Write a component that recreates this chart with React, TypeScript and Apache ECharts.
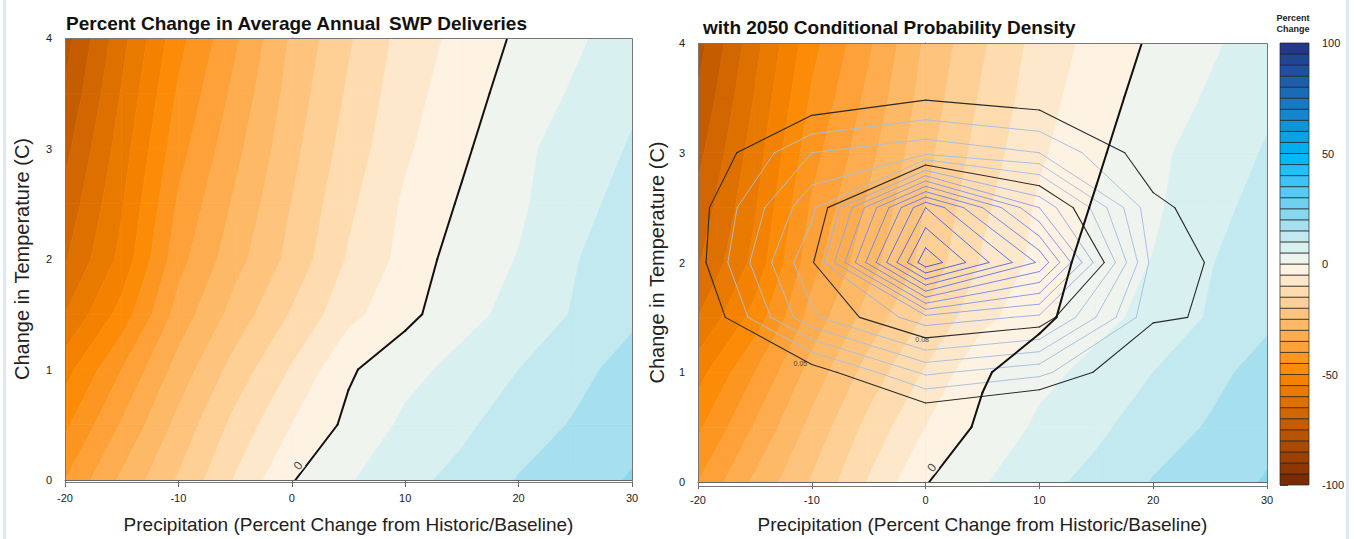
import React, { useEffect, useRef } from "react";
import * as echarts from "echarts";

// ---------- data ----------
const precipGrid = [-20, -15, -10, -5, 0, 5, 10, 15, 20, 25, 30];
const tempGrid = [0, 0.5, 1, 1.5, 2, 2.5, 3, 3.5, 4];
// percent change in SWP deliveries; rows = temperature, cols = precipitation
const pctChange = [
  [-40, -29, -19.5, -9.6, -0.3, 4.5, 8.6, 11.4, 15.3, 17.9, 20.4],
  [-46, -34.5, -23.5, -13.5, -5, 1.2, 6, 9, 12.5, 15.5, 18.5],
  [-52, -40, -28, -18, -9.5, -0.7, 3.5, 6.5, 10, 13.5, 17],
  [-60, -48, -33, -23, -14.5, -6.5, -1.5, 3.5, 6.5, 10.5, 14],
  [-65.5, -53.5, -36.8, -26.9, -18.4, -9.5, -3.4, 2.6, 5.2, 9.7, 13.5],
  [-68.5, -55.5, -39.3, -29.2, -19.9, -11.1, -4.2, 0.6, 4.2, 8.3, 12],
  [-71.5, -57.5, -41.9, -31.5, -21.5, -12.8, -5.8, -0.9, 4.0, 6.9, 10.5],
  [-74.5, -59.6, -44.3, -33.7, -22.9, -14.3, -6.9, -2.2, 2.3, 5.6, 9],
  [-77, -61.7, -46.7, -35.9, -24.2, -15.7, -8.0, -3.4, 0.85, 4.2, 7.5],
];
const bandLevels = Array.from({ length: 41 }, (_, k) => -100 + 5 * k);

const densPrecip = [-20, -10, 0, 10, 20, 30];
const densTemp = [0, 0.5, 1, 1.5, 2, 2.5, 3, 3.5, 4];
const density = [
  [0.015, 0.02, 0.025, 0.022, 0.018, 0.015],
  [0.025, 0.033, 0.0396, 0.033, 0.028, 0.025],
  [0.036, 0.0463, 0.0632, 0.058, 0.041, 0.037],
  [0.0428, 0.0728, 0.09, 0.0847, 0.051, 0.0477],
  [0.0478, 0.079, 0.1444, 0.115, 0.0536, 0.0456],
  [0.0475, 0.0722, 0.128, 0.092, 0.0515, 0.0436],
  [0.0438, 0.062, 0.0661, 0.062, 0.046, 0.04],
  [0.035, 0.0444, 0.0493, 0.0466, 0.038, 0.03],
  [0.025, 0.033, 0.037, 0.035, 0.03, 0.025],
];
const densityLevels = [0.056, 0.062, 0.068, 0.074, 0.086, 0.092, 0.098, 0.104, 0.11, 0.116, 0.122, 0.128, 0.134, 0.14];
const densityKeyLevels = [0.05, 0.08];
const densityKeyLabels = ["0.05", "0.08"];
const densityLabelPos = [[-11, 1.08], [-0.3, 1.3]];
const zeroLabelPos = [0.55, 0.13];

const xTicks = { min: -20, max: 30, step: 10 };
const yTicks = { min: 0, max: 4, step: 1 };
const cbTicks = { min: -100, max: 100, step: 50 };

// ---------- styles ----------
const bandColors = [
  "#7a2b00", "#8c3600", "#9c4000", "#aa4a00", "#b85300", "#c55c00", "#d26600", "#de7000", "#e97a00", "#f48200",
  "#fc8c08", "#fd9620", "#fda138", "#fdad4f", "#fdb966", "#fec47e", "#fed096", "#fedcb0", "#fee8cc", "#fef2e2",
  "#eff4ee", "#d8f0f0", "#c2e9ef", "#a6e0ef", "#88d7f0", "#6fd0f2", "#55caf4", "#3cc4f6", "#1ec0f8", "#00baf6",
  "#00b0ee", "#0aa2e4", "#1193d8", "#1585cd", "#1878c2", "#1a6bb5", "#1c5ea9", "#1e519e", "#1f4593", "#24378a",
];
const densityColors = [
  "rgba(165,192,222,0.95)", "rgba(165,192,222,0.95)", "rgba(165,192,222,0.95)", "rgba(165,192,222,0.95)",
  "#9fb0ea", "#95a6ea", "#8b9ce9", "#8192e8", "#7788e6", "#6e7fe5", "#6576e3", "#5c6de2", "#5364e0", "#4a5bdf",
];
const FONT = '"Liberation Sans", Arial, Helvetica, sans-serif';

type Pt = [number, number, number];

function clip(poly: Pt[], level: number, keepAbove: boolean): Pt[] {
  const out: Pt[] = [];
  const n = poly.length;
  for (let a = 0; a < n; a++) {
    const p = poly[a];
    const q = poly[(a + 1) % n];
    const pin = keepAbove ? p[2] >= level : p[2] <= level;
    const qin = keepAbove ? q[2] >= level : q[2] <= level;
    if (pin) out.push(p);
    if (pin !== qin) {
      const t = (level - p[2]) / (q[2] - p[2]);
      out.push([p[0] + t * (q[0] - p[0]), p[1] + t * (q[1] - p[1]), level]);
    }
  }
  return out;
}

function cellCorners(xs: number[], ys: number[], vals: number[][], i: number, j: number): Pt[] {
  return [
    [xs[i], ys[j], vals[j][i]],
    [xs[i + 1], ys[j], vals[j][i + 1]],
    [xs[i + 1], ys[j + 1], vals[j + 1][i + 1]],
    [xs[i], ys[j + 1], vals[j + 1][i]],
  ];
}

function cellData(xs: number[], ys: number[]) {
  const d: number[][] = [];
  for (let j = 0; j < ys.length - 1; j++)
    for (let i = 0; i < xs.length - 1; i++) d.push([xs[i], ys[j], i, j]);
  return d;
}

function fillRender(params: any, api: any) {
  const i = api.value(2);
  const j = api.value(3);
  const corners = cellCorners(precipGrid, tempGrid, pctChange, i, j);
  const vs = corners.map((c) => c[2]);
  const kmin = Math.max(0, Math.floor((Math.min(...vs) - bandLevels[0]) / 5));
  const kmax = Math.min(bandColors.length - 1, Math.floor((Math.max(...vs) - bandLevels[0]) / 5));
  const children: any[] = [];
  for (let k = kmin; k <= kmax; k++) {
    let poly = clip(corners, bandLevels[k], true);
    poly = clip(poly, bandLevels[k + 1], false);
    if (poly.length < 3) continue;
    const pts = poly.map((p) => api.coord([p[0], p[1]]));
    children.push({
      type: "polygon",
      shape: { points: pts },
      style: { fill: bandColors[k], stroke: bandColors[k], lineWidth: 0.7 },
    });
  }
  return { type: "group", children };
}

function segments(corners: Pt[], L: number): [number, number][][] {
  const c = corners.map((p) => [p[0], p[1], p[2] === L ? p[2] + 1e-9 : p[2]] as Pt);
  const pts: ([number, number] | null)[] = [];
  for (let e = 0; e < 4; e++) {
    const a = c[e];
    const b = c[(e + 1) % 4];
    if ((a[2] - L) * (b[2] - L) < 0) {
      const t = (L - a[2]) / (b[2] - a[2]);
      pts.push([a[0] + t * (b[0] - a[0]), a[1] + t * (b[1] - a[1])]);
    } else pts.push(null);
  }
  const found = pts.filter((p) => p) as [number, number][];
  if (found.length === 2) return [found];
  if (found.length === 4) {
    const center = (c[0][2] + c[1][2] + c[2][2] + c[3][2]) / 4;
    const same = (center - L) * (c[0][2] - L) > 0;
    return same
      ? [[pts[0]!, pts[1]!], [pts[2]!, pts[3]!]]
      : [[pts[3]!, pts[0]!], [pts[1]!, pts[2]!]];
  }
  return [];
}

function lineRender(xs: number[], ys: number[], vals: number[][], levels: number[], colors: string[], width: number) {
  return (params: any, api: any) => {
    const i = api.value(2);
    const j = api.value(3);
    const corners = cellCorners(xs, ys, vals, i, j);
    const children: any[] = [];
    levels.forEach((L, li) => {
      for (const s of segments(corners, L)) {
        const p1 = api.coord(s[0]);
        const p2 = api.coord(s[1]);
        children.push({
          type: "line",
          shape: { x1: p1[0], y1: p1[1], x2: p2[0], y2: p2[1] },
          style: { stroke: colors[li], lineWidth: width, lineCap: "round" },
        });
      }
    });
    return { type: "group", children };
  };
}

function colorbarRender(params: any, api: any) {
  const lo = api.value(0);
  const hi = api.value(1);
  const k = api.value(2);
  const p1 = api.coord([0, lo]);
  const p2 = api.coord([1, hi]);
  return {
    type: "rect",
    shape: { x: p1[0], y: p2[1], width: p2[0] - p1[0], height: p1[1] - p2[1] },
    style: { fill: bandColors[k], stroke: "#222", lineWidth: 0.7 },
  };
}

const panels = [
  { left: 65, top: 38, width: 567, height: 444, xGap: 35, yGap: 33 },
  { left: 698, top: 43, width: 569, height: 443, xGap: 33, yGap: 31 },
];

function buildOption() {
  const grids: any[] = panels.map((p) => ({ left: p.left, top: p.top, width: p.width, height: p.height, containLabel: false }));
  grids.push({ left: 1280, top: 43, width: 29, height: 442 });

  const xAxes: any[] = panels.map((p, gi) => ({
    gridIndex: gi,
    type: "value",
    min: xTicks.min,
    max: xTicks.max,
    interval: xTicks.step,
    axisLine: { show: true, lineStyle: { color: "#666", width: 1 } },
    axisTick: { show: true, length: 7, lineStyle: { color: "#666" } },
    axisLabel: { fontSize: 11, color: "#222", margin: 12, fontFamily: FONT },
    splitLine: { show: false },
    name: "Precipitation (Percent Change from Historic/Baseline)",
    nameLocation: "middle",
    nameGap: p.xGap,
    nameTextStyle: { fontSize: 19, color: "#222", fontFamily: FONT },
  }));
  xAxes.push({ gridIndex: 2, type: "value", min: 0, max: 1, show: false });

  const yAxes: any[] = panels.map((p, gi) => ({
    gridIndex: gi,
    type: "value",
    min: yTicks.min,
    max: yTicks.max,
    interval: yTicks.step,
    axisLine: { show: true, lineStyle: { color: "#666", width: 1 } },
    axisTick: { show: true, length: 7, lineStyle: { color: "#666" } },
    axisLabel: { fontSize: 11, color: "#222", margin: 13, fontFamily: FONT },
    splitLine: { show: false },
    name: "Change in Temperature (C)",
    nameLocation: "middle",
    nameGap: p.yGap,
    nameTextStyle: { fontSize: 20, color: "#222", fontFamily: FONT },
  }));
  yAxes.push({
    gridIndex: 2,
    type: "value",
    position: "right",
    min: cbTicks.min,
    max: cbTicks.max,
    interval: cbTicks.step,
    axisLine: { show: false },
    axisTick: { show: true, length: 8, lineStyle: { color: "#555" } },
    axisLabel: { fontSize: 11, color: "#222", margin: 13, fontFamily: FONT },
    splitLine: { show: false },
  });

  const fieldCells = cellData(precipGrid, tempGrid);
  const densCells = cellData(densPrecip, densTemp);
  const series: any[] = [];

  panels.forEach((p, gi) => {
    series.push({
      type: "custom",
      xAxisIndex: gi,
      yAxisIndex: gi,
      data: fieldCells,
      encode: { x: 0, y: 1 },
      renderItem: fillRender,
      clip: true,
      silent: true,
      z: 1,
    });
    if (gi === 1) {
      series.push({
        type: "custom",
        xAxisIndex: gi,
        yAxisIndex: gi,
        data: densCells,
        encode: { x: 0, y: 1 },
        renderItem: lineRender(densPrecip, densTemp, density, densityLevels, densityColors, 1),
        clip: true,
        silent: true,
        z: 3,
      });
      series.push({
        type: "custom",
        xAxisIndex: gi,
        yAxisIndex: gi,
        data: densCells,
        encode: { x: 0, y: 1 },
        renderItem: lineRender(densPrecip, densTemp, density, densityKeyLevels, ["#2a2a2a", "#2a2a2a"], 1.1),
        clip: true,
        silent: true,
        z: 4,
      });
      series.push({
        type: "scatter",
        xAxisIndex: gi,
        yAxisIndex: gi,
        data: densityLabelPos.map((d, k) => ({ value: d, name: densityKeyLabels[k] })),
        symbolSize: 1,
        itemStyle: { color: "rgba(0,0,0,0)" },
        label: {
          show: true,
          position: "inside",
          formatter: (pp: any) => pp.name,
          fontSize: 7,
          color: "#222",
          fontFamily: FONT,
          rotate: 0,
        },
        silent: true,
        z: 6,
      });
    }
    series.push({
      type: "custom",
      xAxisIndex: gi,
      yAxisIndex: gi,
      data: fieldCells,
      encode: { x: 0, y: 1 },
      renderItem: lineRender(precipGrid, tempGrid, pctChange, [0], ["#111"], 2),
      clip: true,
      silent: true,
      z: 5,
    });
    series.push({
      type: "scatter",
      xAxisIndex: gi,
      yAxisIndex: gi,
      data: [zeroLabelPos],
      symbolSize: 1,
      itemStyle: { color: "rgba(0,0,0,0)" },
      label: {
        show: true,
        position: "inside",
        formatter: "0",
        fontSize: 12,
        color: "#111",
        rotate: 50,
        fontFamily: FONT,
        backgroundColor: "#f4f2ea",
        padding: [0, 1],
      },
      silent: true,
      z: 6,
    });
  });

  series.push({
    type: "custom",
    xAxisIndex: 2,
    yAxisIndex: 2,
    data: bandColors.map((_, k) => [bandLevels[k], bandLevels[k + 1], k]),
    encode: { y: [0, 1] },
    renderItem: colorbarRender,
    silent: true,
  });

  const graphic: any[] = [
    { type: "rect", left: 3, top: 0, shape: { width: 3, height: 539 }, style: { fill: "#dfe9f5" }, silent: true },
    { type: "rect", left: 1346, top: 0, shape: { width: 3, height: 539 }, style: { fill: "#dfe9f5" }, silent: true },
    { type: "text", left: 66, top: 14, style: { text: "Percent Change in Average Annual", font: `bold 19px ${FONT}`, fill: "#111" } },
    { type: "text", left: 389, top: 14, style: { text: "SWP Deliveries", font: `bold 19px ${FONT}`, fill: "#111" } },
    { type: "text", left: 703, top: 18, style: { text: "with 2050 Conditional Probability Density", font: `bold 19px ${FONT}`, fill: "#111" } },
    { type: "text", x: 1293, y: 18, style: { text: "Percent", font: `bold 9px ${FONT}`, fill: "#222", textAlign: "center", textVerticalAlign: "middle" } },
    { type: "text", x: 1293, y: 29, style: { text: "Change", font: `bold 9px ${FONT}`, fill: "#222", textAlign: "center", textVerticalAlign: "middle" } },
  ];
  panels.forEach((p) => {
    graphic.push({
      type: "rect",
      shape: { x: p.left + 0.5, y: p.top + 0.5, width: p.width, height: p.height },
      style: { fill: "none", stroke: "#777", lineWidth: 1 },
      z: 100,
      silent: true,
    });
  });

  return {
    animation: false,
    backgroundColor: "#ffffff",
    grid: grids,
    xAxis: xAxes,
    yAxis: yAxes,
    series,
    graphic,
  };
}

export default function App() {
  const ref = useRef<HTMLDivElement>(null);
  useEffect(() => {
    document.body.style.margin = "0";
    const chart = echarts.init(ref.current!, null, { renderer: "svg" });
    chart.setOption(buildOption() as any);
    return () => chart.dispose();
  }, []);
  return <div ref={ref} style={{ width: 1354, height: 539 }} />;
}
